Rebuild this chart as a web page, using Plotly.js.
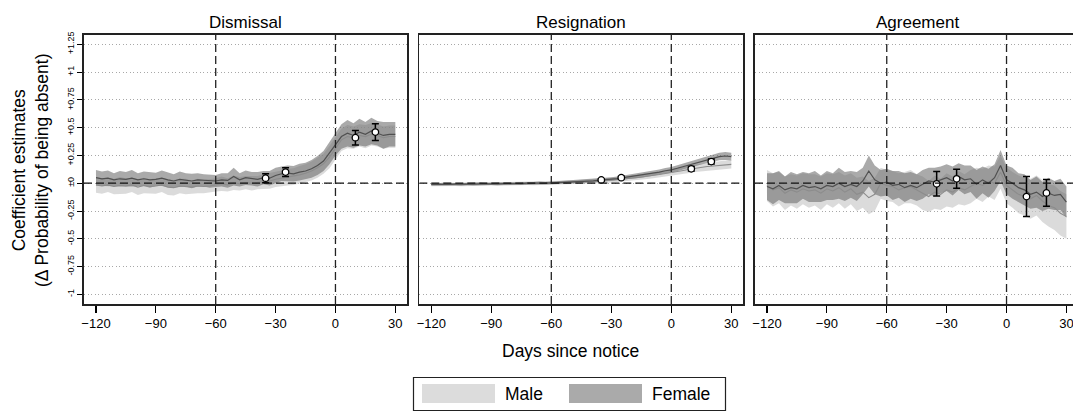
<!DOCTYPE html>
<html>
<head>
<meta charset="utf-8">
<script src="https://cdn.plot.ly/plotly-3.0.1.min.js"></script>
<style>
html,body{margin:0;padding:0;background:#fff;}
#chart{width:1073px;height:413px;}
</style>
</head>
<body>
<div id="chart"></div>
<script>
// ---------- DATA ----------
const panels = ["Dismissal", "Resignation", "Agreement"];
const days = [-120,-117,-114,-111,-108,-105,-102,-99,-96,-93,-90,-87,-84,-81,-78,-75,-72,-69,-66,-63,-60,-57,-54,-51,-48,-45,-42,-39,-36,-33,-30,-27,-24,-21,-18,-15,-12,-9,-6,-3,0,3,6,9,12,15,18,21,24,27,30];

const dismissalFemale = [0.05,0.04,0.045,0.03,0.04,0.035,0.045,0.03,0.04,0.03,0.035,0.045,0.03,0.02,0.035,0.03,0.02,0.03,0.025,0.02,0.02,0.03,0.025,0.06,0.03,0.05,0.04,0.035,0.05,0.045,0.07,0.085,0.09,0.085,0.1,0.11,0.13,0.16,0.2,0.27,0.35,0.42,0.45,0.43,0.46,0.44,0.47,0.45,0.43,0.44,0.44];
const dismissalMale = [-0.015,-0.025,-0.015,-0.03,-0.02,-0.025,-0.015,-0.035,-0.02,-0.03,-0.025,-0.015,-0.035,-0.04,-0.025,-0.03,-0.035,-0.025,-0.03,-0.025,-0.015,-0.005,-0.015,0.005,-0.005,0.005,0.0,0.005,0.015,0.02,0.035,0.045,0.055,0.06,0.075,0.09,0.11,0.14,0.175,0.235,0.31,0.39,0.42,0.41,0.43,0.42,0.44,0.43,0.41,0.42,0.42];
const dismissalFemaleHW = [0.07,0.065,0.07,0.06,0.07,0.065,0.075,0.06,0.065,0.07,0.06,0.07,0.065,0.06,0.07,0.06,0.065,0.06,0.055,0.06,0.055,0.06,0.065,0.08,0.06,0.065,0.06,0.065,0.06,0.065,0.07,0.065,0.07,0.07,0.075,0.075,0.08,0.085,0.09,0.1,0.1,0.11,0.12,0.11,0.12,0.11,0.12,0.11,0.12,0.11,0.11];
const dismissalMaleHW = [0.07,0.07,0.065,0.07,0.075,0.07,0.065,0.07,0.07,0.065,0.07,0.065,0.07,0.07,0.065,0.07,0.06,0.065,0.06,0.06,0.06,0.065,0.06,0.065,0.06,0.06,0.065,0.06,0.065,0.07,0.07,0.07,0.075,0.075,0.08,0.08,0.085,0.09,0.09,0.1,0.1,0.1,0.105,0.1,0.1,0.105,0.1,0.1,0.1,0.1,0.1];

const resignationFemale = [-0.01,-0.012,-0.008,-0.011,-0.009,-0.01,-0.006,-0.008,-0.005,-0.007,-0.004,-0.006,-0.003,-0.004,-0.001,-0.003,0.0,-0.002,0.002,0.0,0.003,0.005,0.008,0.01,0.012,0.016,0.02,0.022,0.027,0.03,0.036,0.042,0.05,0.058,0.065,0.072,0.08,0.09,0.1,0.112,0.12,0.135,0.15,0.165,0.185,0.2,0.215,0.23,0.24,0.245,0.24];
const resignationMale = [-0.012,-0.013,-0.01,-0.012,-0.011,-0.011,-0.008,-0.009,-0.007,-0.008,-0.006,-0.007,-0.005,-0.005,-0.003,-0.004,-0.002,-0.003,0.0,-0.001,0.001,0.003,0.005,0.007,0.009,0.012,0.015,0.017,0.02,0.023,0.028,0.032,0.038,0.044,0.05,0.056,0.062,0.07,0.078,0.088,0.095,0.105,0.115,0.125,0.135,0.14,0.15,0.155,0.16,0.165,0.17];
const resignationFemaleHW = [0.013,0.012,0.013,0.012,0.012,0.013,0.012,0.012,0.013,0.012,0.012,0.013,0.012,0.012,0.012,0.013,0.012,0.012,0.013,0.012,0.013,0.013,0.014,0.014,0.015,0.015,0.016,0.016,0.017,0.018,0.018,0.019,0.02,0.02,0.021,0.022,0.022,0.023,0.024,0.025,0.026,0.027,0.028,0.029,0.03,0.031,0.032,0.033,0.034,0.035,0.035];
const resignationMaleHW = [0.015,0.015,0.016,0.015,0.015,0.016,0.015,0.015,0.016,0.015,0.015,0.016,0.015,0.015,0.016,0.015,0.015,0.016,0.016,0.015,0.016,0.016,0.017,0.017,0.018,0.018,0.019,0.019,0.02,0.021,0.021,0.022,0.023,0.023,0.024,0.025,0.025,0.026,0.027,0.028,0.029,0.03,0.031,0.032,0.033,0.034,0.035,0.036,0.037,0.038,0.038];

const agreementFemale = [-0.03,-0.05,-0.02,-0.06,-0.04,-0.05,-0.02,-0.04,-0.03,-0.05,-0.02,-0.03,0.0,-0.03,-0.01,-0.03,0.02,0.11,0.03,0.0,0.01,-0.02,-0.01,-0.04,-0.02,-0.04,-0.01,0.02,0.01,0.03,0.05,0.02,0.06,0.03,0.04,-0.01,0.03,0.0,0.05,0.16,0.03,0.0,-0.04,-0.06,-0.1,-0.08,-0.12,-0.09,-0.11,-0.1,-0.17];
const agreementMale = [-0.02,-0.06,-0.04,-0.09,-0.06,-0.08,-0.05,-0.07,-0.06,-0.09,-0.05,-0.07,-0.04,-0.08,-0.05,-0.1,-0.08,-0.13,-0.1,0.0,-0.02,-0.03,-0.06,-0.04,-0.03,-0.06,-0.09,-0.12,-0.08,-0.1,-0.06,-0.08,-0.04,-0.06,-0.03,0.0,-0.02,0.02,0.0,0.1,-0.02,-0.06,-0.1,-0.12,-0.14,-0.11,-0.16,-0.2,-0.22,-0.27,-0.3];
const agreementFemaleHW = [0.12,0.14,0.13,0.12,0.14,0.13,0.12,0.13,0.14,0.12,0.13,0.12,0.14,0.13,0.12,0.13,0.12,0.14,0.13,0.12,0.12,0.13,0.12,0.13,0.12,0.12,0.13,0.12,0.13,0.12,0.12,0.13,0.12,0.13,0.12,0.13,0.12,0.13,0.12,0.14,0.13,0.14,0.13,0.14,0.13,0.14,0.13,0.14,0.13,0.14,0.14];
const agreementMaleHW = [0.14,0.15,0.14,0.15,0.14,0.15,0.14,0.15,0.14,0.15,0.14,0.15,0.14,0.15,0.14,0.15,0.14,0.15,0.15,0.14,0.14,0.14,0.15,0.14,0.15,0.14,0.15,0.14,0.15,0.14,0.15,0.14,0.15,0.14,0.15,0.14,0.15,0.14,0.15,0.15,0.16,0.16,0.17,0.17,0.18,0.18,0.19,0.19,0.2,0.2,0.2];

const pointDays = [-35, -25, 10, 20];
const dismissalPoints = [0.045, 0.10, 0.41, 0.46];
const dismissalPointErr = [0.04, 0.04, 0.065, 0.075];
const resignationPoints = [0.03, 0.05, 0.13, 0.195];
const resignationPointErr = [0.01, 0.012, 0.02, 0.022];
const agreementPoints = [-0.005, 0.04, -0.12, -0.087];
const agreementPointErr = [0.11, 0.085, 0.18, 0.12];

const xTickVals = [-120, -90, -60, -30, 0, 30];
const yTickVals = [1.25, 1, 0.75, 0.5, 0.25, 0, -0.25, -0.5, -0.75, -1];
const yTickText = ["+1.25", "+1", "+0.75", "+0.5", "+0.25", "\u00b10", "-0.25", "-0.5", "-0.75", "-1"];
const legendLabels = ["Male", "Female"];
const xTitle = "Days since notice";
const yTitle = "Coefficient estimates<br>(\u0394 Probability of being absent)";

// ---------- LAYOUT CONSTANTS ----------
const W = 1073, H = 413, ML = 84, MR = 0, MT = 35, MB = 109;
const PW = W - ML - MR, PH = H - MT - MB;
const px2x = p => (p - ML) / PW;
const px2y = q => (H - MB - q) / PH;

const maleFill = "rgba(200,200,200,0.65)";
const femaleFill = "rgba(100,100,100,0.55)";
const maleLine = "#8c8c8c";
const femaleLine = "#505050";
const FONT = "Liberation Sans, Arial, Helvetica, sans-serif";

const series = [
  {f: dismissalFemale, m: dismissalMale, fhw: dismissalFemaleHW, mhw: dismissalMaleHW, p: dismissalPoints, pe: dismissalPointErr},
  {f: resignationFemale, m: resignationMale, fhw: resignationFemaleHW, mhw: resignationMaleHW, p: resignationPoints, pe: resignationPointErr},
  {f: agreementFemale, m: agreementMale, fhw: agreementFemaleHW, mhw: agreementMaleHW, p: agreementPoints, pe: agreementPointErr}
];

function band(mean, hw, color, xa, ya) {
  const up = mean.map((v, i) => v + hw[i]);
  const lo = mean.map((v, i) => v - hw[i]);
  return {
    x: days.concat(days.slice().reverse()),
    y: up.concat(lo.slice().reverse()),
    type: "scatter", mode: "lines", fill: "toself",
    fillcolor: color, line: {width: 0, color: color},
    xaxis: xa, yaxis: ya, hoverinfo: "skip", showlegend: false
  };
}

const traces = [];
series.forEach((s, k) => {
  const xa = k === 0 ? "x" : "x" + (k + 1);
  const ya = k === 0 ? "y" : "y" + (k + 1);
  traces.push(band(s.m, s.mhw, maleFill, xa, ya));
  traces.push(band(s.f, s.fhw, femaleFill, xa, ya));
  traces.push({x: days, y: s.m, type: "scatter", mode: "lines", line: {color: maleLine, width: 1.1}, xaxis: xa, yaxis: ya, showlegend: false});
  traces.push({x: days, y: s.f, type: "scatter", mode: "lines", line: {color: femaleLine, width: 1.2}, xaxis: xa, yaxis: ya, showlegend: false});
  traces.push({
    x: pointDays, y: s.p, type: "scatter", mode: "markers",
    marker: {symbol: "circle", size: 6.5, color: "#ffffff", line: {color: "#000", width: 1.3}},
    error_y: {type: "data", array: s.pe, visible: true, color: "#000", thickness: 1.5, width: 3.5},
    xaxis: xa, yaxis: ya, showlegend: false
  });
});

const domains = [[0, px2x(407.3)], [px2x(419.3), px2x(743.3)], [px2x(755), 1]];
const yRange = [-1.087, 1.334];

const layout = {
  width: W, height: H,
  margin: {l: ML, r: MR, t: MT, b: MB},
  paper_bgcolor: "#fff", plot_bgcolor: "#fff",
  font: {family: FONT, color: "#000"},
  showlegend: false,
  shapes: [], annotations: []
};

for (let k = 0; k < 3; k++) {
  const xs = k === 0 ? "xaxis" : "xaxis" + (k + 1);
  const ys = k === 0 ? "yaxis" : "yaxis" + (k + 1);
  const xr = k === 0 ? "x" : "x" + (k + 1);
  const yr = k === 0 ? "y" : "y" + (k + 1);
  layout[xs] = {
    domain: domains[k], anchor: yr,
    range: k === 2 ? [-126, 33.3] : [-126, 36],
    tickvals: xTickVals, ticks: "outside", ticklen: 7, tickwidth: 1.2, tickcolor: "#000",
    tickfont: {size: 13, family: FONT, color: "#000"},
    ticklabeloverflow: "allow",
    showgrid: false, zeroline: false,
    showline: true, linecolor: "#222", linewidth: 1.8, mirror: true
  };
  layout[ys] = {
    domain: [0, 1], anchor: xr, range: yRange,
    tickvals: yTickVals, ticktext: yTickText,
    showticklabels: k === 0, ticks: k === 0 ? "outside" : "", ticklen: 5, tickwidth: 1, tickcolor: "#000",
    tickangle: -90, tickfont: {size: 9, family: FONT, color: "#000"},
    showgrid: true, gridcolor: "#a8a8a8", griddash: "1px,2.5px", gridwidth: 1,
    zeroline: false,
    showline: true, linecolor: "#222", linewidth: 1.6, mirror: k !== 2
  };
  // dashed reference lines
  layout.shapes.push({type: "line", xref: xr, yref: yr, x0: -126, x1: k === 2 ? 33.3 : 36, y0: 0, y1: 0,
    line: {color: "#111", width: 1.3, dash: "8px,4px"}, layer: "above"});
  [-60, 0].forEach(v => layout.shapes.push({type: "line", xref: xr, yref: yr + " domain", x0: v, x1: v, y0: 0, y1: 1,
    line: {color: "#222", width: 1.3, dash: "8px,4px"}, layer: "above"}));
  // panel title
  const center = k === 2 ? (domains[k][0] + px2x(1079)) / 2 : (domains[k][0] + domains[k][1]) / 2;
  layout.annotations.push({text: panels[k], xref: "paper", yref: "paper", x: center, y: 1,
    xanchor: "center", yanchor: "bottom", yshift: 1, showarrow: false, font: {size: 17, family: FONT, color: "#000"}});
}

// axis titles
layout.annotations.push({text: yTitle, xref: "paper", yref: "paper", x: px2x(30), y: px2y(170),
  xanchor: "center", yanchor: "middle", textangle: -90, showarrow: false,
  font: {size: 17.5, family: FONT, color: "#000"}});
layout.annotations.push({text: xTitle, xref: "paper", yref: "paper", x: px2x(570), y: px2y(351),
  xanchor: "center", yanchor: "middle", showarrow: false,
  font: {size: 17.5, family: FONT, color: "#000"}});

// legend (drawn manually)
layout.shapes.push({type: "rect", xref: "paper", yref: "paper", x0: px2x(413.5), x1: px2x(725.5), y0: px2y(377.5), y1: px2y(410.5),
  line: {color: "#222", width: 1.2}, fillcolor: "rgba(0,0,0,0)"});
layout.shapes.push({type: "rect", xref: "paper", yref: "paper", x0: px2x(422), x1: px2x(495), y0: px2y(384), y1: px2y(403),
  line: {width: 0}, fillcolor: "#dcdcdc"});
layout.shapes.push({type: "rect", xref: "paper", yref: "paper", x0: px2x(569), x1: px2x(642), y0: px2y(384), y1: px2y(403),
  line: {width: 0}, fillcolor: "#aaaaaa"});
layout.annotations.push({text: legendLabels[0], xref: "paper", yref: "paper", x: px2x(503), y: px2y(394),
  xanchor: "left", yanchor: "middle", showarrow: false, font: {size: 17.5, family: FONT, color: "#000"}});
layout.annotations.push({text: legendLabels[1], xref: "paper", yref: "paper", x: px2x(650), y: px2y(394),
  xanchor: "left", yanchor: "middle", showarrow: false, font: {size: 17.5, family: FONT, color: "#000"}});

Plotly.newPlot("chart", traces, layout, {staticPlot: true, displayModeBar: false});
</script>
</body>
</html>
